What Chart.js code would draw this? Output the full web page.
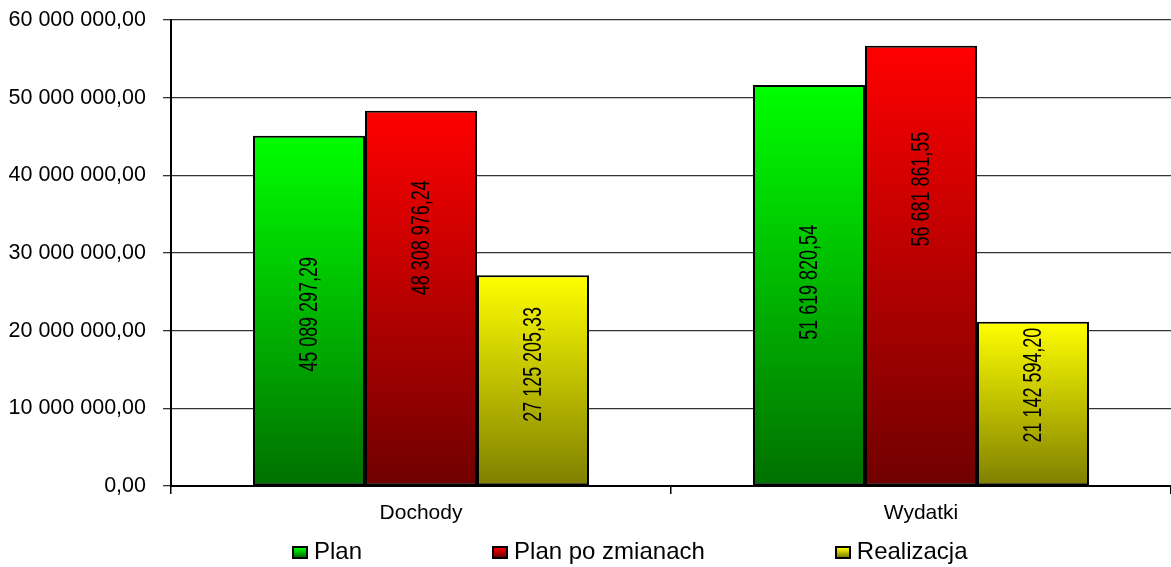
<!DOCTYPE html>
<html>
<head>
<meta charset="utf-8">
<script src="https://cdn.jsdelivr.net/npm/chart.js@4/dist/chart.umd.min.js"></script>
<style>
  html, body { margin: 0; padding: 0; background: #fff; }
  #wrap { position: relative; width: 1171px; height: 567px; }
  #legend {
    position: absolute; left: 292px; top: 537px;
    display: flex; gap: 130px;
    font: 24px "Liberation Sans", Arial, sans-serif; color: #000;
  }
  #legend .item { display: flex; align-items: center; white-space: nowrap; }
  #legend .box {
    width: 12px; height: 9px; border: 2px solid #000; margin-right: 6px; margin-top: 3px;
  }
</style>
</head>
<body>
<div id="wrap">
  <canvas id="myChart" width="1171" height="567"></canvas>
  <div id="legend"></div>
</div>
<script>
const categories = ['Dochody', 'Wydatki'];
const seriesNames = ['Plan', 'Plan po zmianach', 'Realizacja'];
const plan = [45089297.29, 51619820.54];
const planPoZmianach = [48308976.24, 56681861.55];
const realizacja = [27125205.33, 21142594.20];
const yTicks = [0, 10000000, 20000000, 30000000, 40000000, 50000000, 60000000];

// gradient colours: top -> bottom
const fills = [
    ['#00ff00', '#007000'],
    ['#ff0000', '#700000'],
    ['#ffff00', '#7f7f00']
];

const fmt = v => {
    const [i, d] = Math.abs(v).toFixed(2).split('.');
    return i.replace(/\B(?=(\d{3})+(?!\d))/g, ' ') + ',' + d;
};

const barFill = (idx) => (c) => {
    const chart = c.chart;
    const y = chart.scales && chart.scales.y;
    if (c.type !== 'data' || !y || !chart.chartArea) return fills[idx][0];
    const top = y.getPixelForValue(c.raw);
    const bottom = y.getPixelForValue(0);
    const g = chart.ctx.createLinearGradient(0, top, 0, bottom);
    g.addColorStop(0, fills[idx][0]);
    g.addColorStop(1, fills[idx][1]);
    return g;
};

// rotated value labels inside the bars
const barLabels = {
    id: 'barLabels',
    afterDatasetsDraw(chart, args, opts) {
        const ctx = chart.ctx;
        chart.data.datasets.forEach((ds, di) => {
            const meta = chart.getDatasetMeta(di);
            meta.data.forEach((el, i) => {
                const a = opts.anchor[di][i];
                const yc = el.base - a * (el.base - el.y);
                ctx.save();
                ctx.translate(el.x, yc);
                ctx.rotate(-Math.PI / 2);
                ctx.scale(0.69, 1);
                ctx.font = '26px "Liberation Sans", Arial, sans-serif';
                ctx.fillStyle = '#000';
                ctx.textAlign = 'center';
                ctx.textBaseline = 'middle';
                ctx.fillText(fmt(ds.data[i]), 0, 1);
                ctx.restore();
            });
        });
    }
};

const series = [plan, planPoZmianach, realizacja];
const ctx = document.getElementById('myChart');
const myChart = new Chart(ctx, {
    type: 'bar',
    data: {
        labels: categories,
        datasets: series.map((data, i) => ({
            label: seriesNames[i],
            data: data,
            backgroundColor: barFill(i),
            borderColor: '#000',
            borderWidth: 2,
            borderSkipped: false,
            barPercentage: 1,
            categoryPercentage: 0.672
        }))
    },
    plugins: [barLabels],
    options: {
        responsive: false,
        animation: false,
        layout: { padding: { top: 20, right: 0, left: 0, bottom: 0 } },
        plugins: {
            legend: { display: false },
            tooltip: { enabled: false },
            barLabels: {
                anchor: [[0.489, 0.507], [0.661, 0.674], [0.576, 0.613]]
            }
        },
        scales: {
            x: {
                afterFit: s => { s.height = 81; s.paddingLeft = 0; s.paddingRight = 0; },
                grid: {
                    offset: true, drawOnChartArea: false, drawTicks: true,
                    tickLength: 8, color: '#000', lineWidth: 1.5
                },
                border: { color: '#000', width: 2 },
                ticks: {
                    color: '#000', padding: 7,
                    font: { family: '"Liberation Sans", Arial', size: 21 }
                }
            },
            y: {
                min: 0, max: 60000000,
                afterFit: s => { s.width = 171; s.paddingTop = 0; s.paddingBottom = 0; },
                afterBuildTicks: s => { s.ticks = yTicks.map(v => ({ value: v })); },
                grid: { color: '#333', lineWidth: 1.3, tickLength: 8 },
                border: { color: '#000', width: 2 },
                ticks: {
                    color: '#000', padding: 17,
                    font: { family: '"Liberation Sans", Arial', size: 21.5 },
                    callback: v => fmt(v)
                }
            }
        }
    }
});

// legend
const legend = document.getElementById('legend');
seriesNames.forEach((name, i) => {
    const item = document.createElement('div');
    item.className = 'item';
    const box = document.createElement('span');
    box.className = 'box';
    box.style.background = 'linear-gradient(' + fills[i][0] + ',' + fills[i][1] + ')';
    item.appendChild(box);
    item.appendChild(document.createTextNode(name));
    legend.appendChild(item);
});
</script>
</body>
</html>
